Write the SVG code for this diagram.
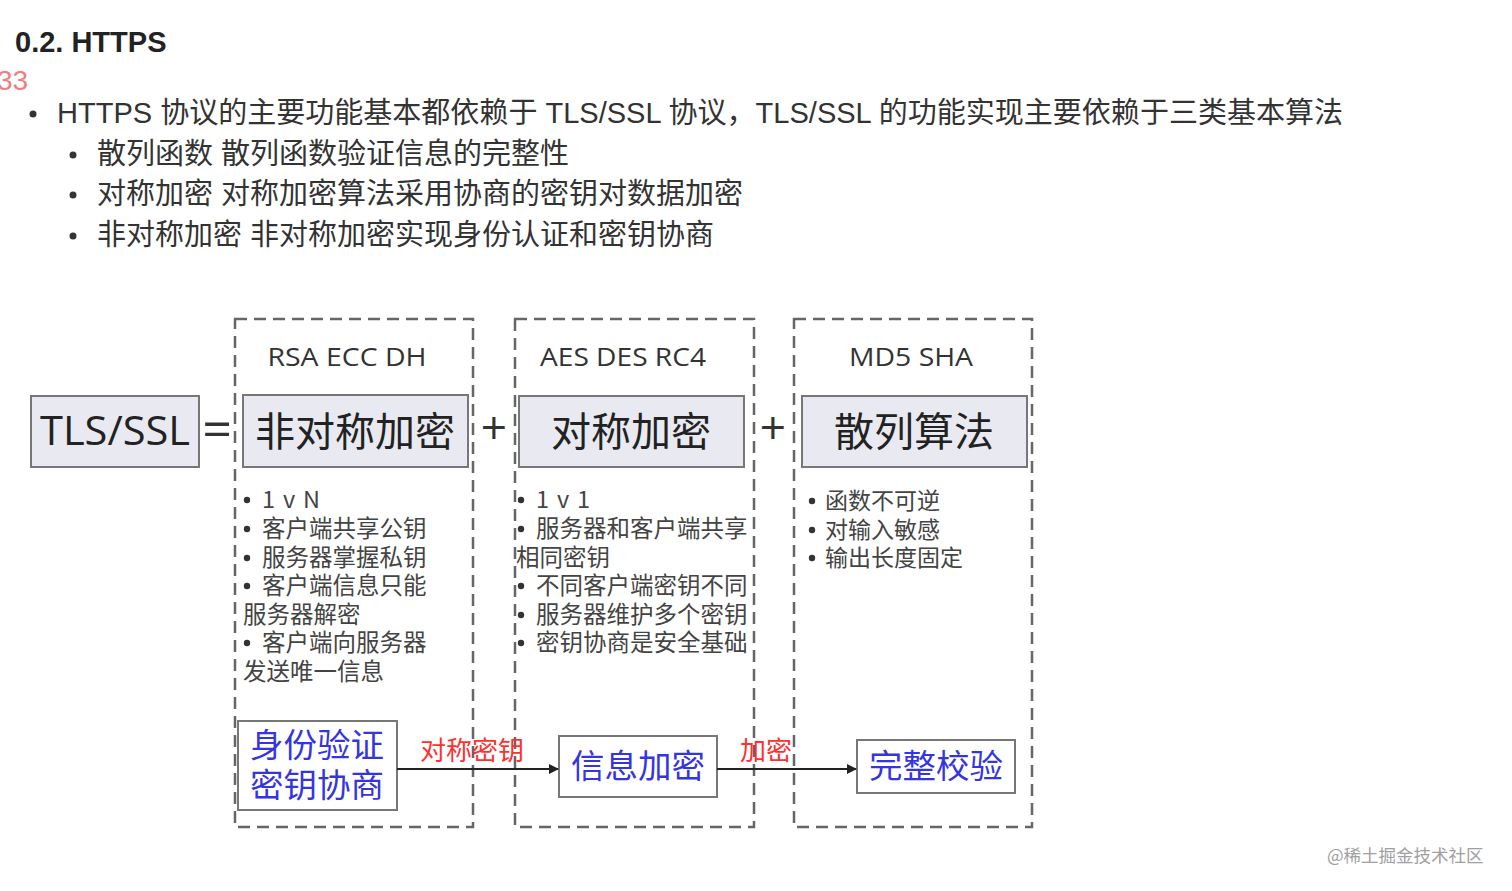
<svg xmlns="http://www.w3.org/2000/svg" width="1512" height="891" viewBox="0 0 1512 891">
<style>
.doc{font-family:"Liberation Sans","Noto Sans CJK SC",sans-serif;fill:#333;}
.h{font-family:"Liberation Sans","Noto Sans CJK SC",sans-serif;font-weight:bold;font-size:29px;fill:#222;}
.li{font-size:29px;}
.dash{fill:none;stroke:#666;stroke-width:2.5;stroke-dasharray:12 7;}
.main{fill:#e9eaf1;stroke:#777;stroke-width:2;}
.mt{font-family:"Open Sans","Noto Sans CJK SC",sans-serif;font-size:40px;fill:#222;text-anchor:middle;}
.alg{font-family:"Open Sans","Noto Sans",sans-serif;font-size:25px;fill:#333;text-anchor:middle;}
.pt{font-family:"Noto Sans CJK SC",sans-serif;font-size:23.5px;fill:#444;}
.dot{fill:#333;}
.wb{fill:#fff;stroke:#777;stroke-width:2;}
.bt{font-family:"Noto Sans CJK SC",sans-serif;font-size:33.5px;fill:#3535e0;text-anchor:middle;}
.rt{font-family:"Noto Sans CJK SC",sans-serif;font-size:26px;fill:#ff3030;}
.ln{stroke:#222;stroke-width:2;fill:none;}
.op{font-family:"Open Sans",sans-serif;fill:#333;text-anchor:middle;}
</style>
<defs>
<marker id="arr" markerWidth="10" markerHeight="10" refX="9" refY="5" orient="auto" markerUnits="userSpaceOnUse">
<path d="M0,0 L10,5 L0,10 Z" fill="#222"/>
</marker>
</defs>
<rect width="1512" height="891" fill="#fff"/>

<g id="doc-text">
<text class="h" x="15" y="52">0.2. HTTPS</text>
<text x="-3" y="90" style="font-family:'Liberation Sans',sans-serif;font-size:28px;fill:#ef7f7f">33</text>
<circle cx="33" cy="114" r="3.5" fill="#333"/>
<text class="doc li" x="57" y="123" textLength="1286" lengthAdjust="spacingAndGlyphs">HTTPS 协议的主要功能基本都依赖于 TLS/SSL 协议，TLS/SSL 的功能实现主要依赖于三类基本算法</text>
<circle cx="73" cy="155" r="3.5" fill="#333"/>
<text class="doc li" x="97" y="164">散列函数 散列函数验证信息的完整性</text>
<circle cx="73" cy="195" r="3.5" fill="#333"/>
<text class="doc li" x="97" y="204">对称加密 对称加密算法采用协商的密钥对数据加密</text>
<circle cx="73" cy="236" r="3.5" fill="#333"/>
<text class="doc li" x="97" y="245">非对称加密 非对称加密实现身份认证和密钥协商</text>
</g>

<g id="group-asym">
<rect class="dash" x="235" y="319" width="238" height="508"/>
<text class="alg" x="347" y="366" textLength="159" lengthAdjust="spacingAndGlyphs">RSA ECC DH</text>
</g>
<g id="group-sym">
<rect class="dash" x="515" y="319" width="239" height="508"/>
<text class="alg" x="623" y="366" textLength="166" lengthAdjust="spacingAndGlyphs">AES DES RC4</text>
</g>
<g id="group-hash">
<rect class="dash" x="794" y="319" width="238" height="508"/>
<text class="alg" x="911" y="366" textLength="124" lengthAdjust="spacingAndGlyphs">MD5 SHA</text>
</g>

<g id="tls">
<rect class="main" x="31" y="396" width="168" height="71"/>
<text class="mt" x="115" y="445" textLength="150" lengthAdjust="spacingAndGlyphs">TLS/SSL</text>
</g>
<g id="ops">
<text class="op" x="217" y="447" style="font-size:52px">=</text>
<text class="op" x="494" y="444" style="font-size:46px">+</text>
<text class="op" x="773" y="444" style="font-size:46px">+</text>
</g>
<g id="asym">
<rect class="main" x="243" y="395" width="225" height="72"/>
<text class="mt" x="355" y="446">非对称加密</text>
</g>
<g id="sym">
<rect class="main" x="519" y="396" width="225" height="71"/>
<text class="mt" x="631" y="446">对称加密</text>
</g>
<g id="hash">
<rect class="main" x="802" y="396" width="225" height="71"/>
<text class="mt" x="914" y="446">散列算法</text>
</g>

<g id="asym-points" class="pt">
<circle class="dot" cx="247" cy="500" r="3.2"/>
<text x="262" y="508" textLength="58" lengthAdjust="spacing">1 v N</text>
<circle class="dot" cx="247" cy="529" r="3.2"/>
<text x="262" y="537">客户端共享公钥</text>
<circle class="dot" cx="247" cy="558" r="3.2"/>
<text x="262" y="566">服务器掌握私钥</text>
<circle class="dot" cx="247" cy="586" r="3.2"/>
<text x="262" y="594">客户端信息只能</text>
<text x="243" y="623">服务器解密</text>
<circle class="dot" cx="247" cy="643" r="3.2"/>
<text x="262" y="651">客户端向服务器</text>
<text x="243" y="680">发送唯一信息</text>
</g>
<g id="sym-points" class="pt">
<circle class="dot" cx="521" cy="500" r="3.2"/>
<text x="536" y="508" textLength="54" lengthAdjust="spacing">1 v 1</text>
<circle class="dot" cx="521" cy="529" r="3.2"/>
<text x="536" y="537">服务器和客户端共享</text>
<text x="516" y="566">相同密钥</text>
<circle class="dot" cx="521" cy="586" r="3.2"/>
<text x="536" y="594">不同客户端密钥不同</text>
<circle class="dot" cx="521" cy="615" r="3.2"/>
<text x="536" y="623">服务器维护多个密钥</text>
<circle class="dot" cx="521" cy="643" r="3.2"/>
<text x="536" y="651">密钥协商是安全基础</text>
</g>
<g id="hash-points" class="pt" style="font-size:23px">
<circle class="dot" cx="812" cy="501" r="3.2"/>
<text x="825" y="509">函数不可逆</text>
<circle class="dot" cx="812" cy="530" r="3.2"/>
<text x="825" y="538">对输入敏感</text>
<circle class="dot" cx="812" cy="558" r="3.2"/>
<text x="825" y="566">输出长度固定</text>
</g>

<g id="auth">
<rect class="wb" x="238" y="721" width="159" height="89"/>
<text class="bt" x="317" y="757">身份验证</text>
<text class="bt" x="317" y="797">密钥协商</text>
</g>
<g id="encrypt">
<rect class="wb" x="559" y="736" width="158" height="61"/>
<text class="bt" x="638" y="778">信息加密</text>
</g>
<g id="verify">
<rect class="wb" x="857" y="740" width="158" height="53"/>
<text class="bt" x="936" y="778">完整校验</text>
</g>

<g id="connectors">
<line class="ln" x1="397" y1="769" x2="558" y2="769" marker-end="url(#arr)"/>
<text class="rt" x="420" y="760">对称密钥</text>
<line class="ln" x1="717" y1="769" x2="856" y2="769" marker-end="url(#arr)"/>
<text class="rt" x="740" y="760">加密</text>
</g>

<g id="watermark">
<text x="1327" y="862" style="font-family:'Noto Sans CJK SC',sans-serif;font-size:17.5px;fill:#a0a0a0">@稀土掘金技术社区</text>
</g>
</svg>
